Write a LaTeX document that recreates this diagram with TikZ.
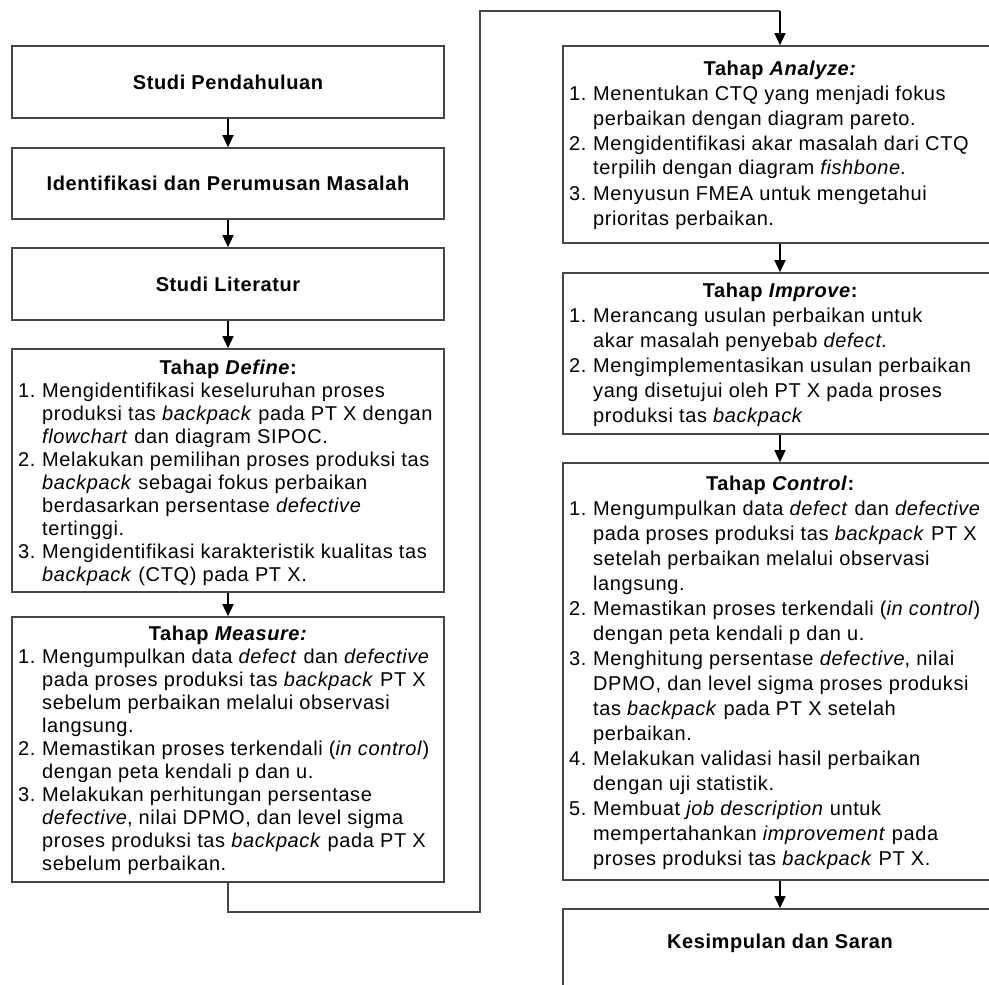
\documentclass[tikz,border=0pt]{standalone}
\usepackage{fontspec}
\setmainfont{Liberation Sans}[LetterSpace=3.0]
\usetikzlibrary{arrows.meta}
\definecolor{boxline}{RGB}{70,70,70}
\newcommand{\itm}[2]{\par\noindent\hangindent=24pt\hangafter=1\makebox[24pt][l]{#1}#2\par}
\tikzset{
  box/.style={draw=boxline, line width=1.6pt, fill=white, rectangle, inner sep=0pt},
  ttl/.style={font=\fontsize{20}{23}\selectfont\bfseries},
  txt/.style={anchor=base west, inner sep=0pt, align=left},
  arr/.style={draw=black, line width=1.3pt, -{Triangle[length=12pt,width=11pt]}},
  link/.style={draw=boxline, line width=1.6pt}
}
\begin{document}
\begin{tikzpicture}[x=1pt,y=-1pt]
\path[use as bounding box, clip] (0,0) rectangle (989,985);
\fill[white] (0,0) rectangle (989,985);
% left column
\node[box, ttl, minimum width=432pt, minimum height=72pt] (s1) at (228,82) {Studi Pendahuluan};
\node[box, ttl, minimum width=432pt, minimum height=71pt] (s2) at (228,183.5) {Identifikasi dan Perumusan Masalah};
\node[box, ttl, minimum width=432pt, minimum height=72pt] (s3) at (228,284) {Studi Literatur};
\node[box, minimum width=432pt, minimum height=243pt] (def) at (228,470.5) {};
\node[box, minimum width=432pt, minimum height=265pt] (mea) at (228,749.5) {};
% right column
\node[box, minimum width=434pt, minimum height=197pt] (ana) at (780,144.5) {};
\node[box, minimum width=434pt, minimum height=161pt] (imp) at (780,353.5) {};
\node[box, minimum width=434pt, minimum height=417pt] (ctl) at (780,671.5) {};
\node[box, minimum width=434pt, minimum height=91pt] (kes) at (780,954.5) {};
\node[ttl, inner sep=0pt] (kest) at (780,943) {Kesimpulan dan Saran};

% texts
\node[txt] (deft) at (18,374) {\parbox[t]{600pt}{\fontsize{20}{23}\selectfont
\makebox[420pt][c]{\bfseries Tahap \textit{Define}:}\par
\itm{1.}{Mengidentifikasi keseluruhan proses\\produksi tas \textit{backpack} pada PT X dengan\\\textit{flowchart} dan diagram SIPOC.}
\itm{2.}{Melakukan pemilihan proses produksi tas\\\textit{backpack} sebagai fokus perbaikan\\berdasarkan persentase \textit{defective}\\tertinggi.}
\itm{3.}{Mengidentifikasi karakteristik kualitas tas\\\textit{backpack} (CTQ) pada PT X.}}};

\node[txt] (meat) at (18,640) {\parbox[t]{600pt}{\fontsize{20}{23}\selectfont
\makebox[420pt][c]{\bfseries Tahap \textit{Measure:}}\par
\itm{1.}{Mengumpulkan data \textit{defect} dan \textit{defective}\\pada proses produksi tas \textit{backpack} PT X\\sebelum perbaikan melalui observasi\\langsung.}
\itm{2.}{Memastikan proses terkendali (\textit{in control})\\dengan peta kendali p dan u.}
\itm{3.}{Melakukan perhitungan persentase\\\textit{defective}, nilai DPMO, dan level sigma\\proses produksi tas \textit{backpack} pada PT X\\sebelum perbaikan.}}};

\node[txt] (anat) at (569,75) {\parbox[t]{600pt}{\fontsize{20}{25}\selectfont
\makebox[422pt][c]{\bfseries Tahap \textit{Analyze:}}\par
\itm{1.}{Menentukan CTQ yang menjadi fokus\\perbaikan dengan diagram pareto.}
\itm{2.}{Mengidentifikasi akar masalah dari CTQ\\terpilih dengan diagram \textit{fishbone}.}
\itm{3.}{Menyusun FMEA untuk mengetahui\\prioritas perbaikan.}}};

\node[txt] (impt) at (569,297) {\parbox[t]{600pt}{\fontsize{20}{25}\selectfont
\makebox[422pt][c]{\bfseries Tahap \textit{Improve}:}\par
\itm{1.}{Merancang usulan perbaikan untuk\\akar masalah penyebab \textit{defect}.}
\itm{2.}{Mengimplementasikan usulan perbaikan\\yang disetujui oleh PT X pada proses\\produksi tas \textit{backpack}}}};

\node[txt] (ctlt) at (569,490) {\parbox[t]{600pt}{\fontsize{20}{25}\selectfont
\makebox[422pt][c]{\bfseries Tahap \textit{Control}:}\par
\itm{1.}{Mengumpulkan data \textit{defect} dan \textit{defective}\\pada proses produksi tas \textit{backpack} PT X\\setelah perbaikan melalui observasi\\langsung.}
\itm{2.}{Memastikan proses terkendali (\textit{in control})\\dengan peta kendali p dan u.}
\itm{3.}{Menghitung persentase \textit{defective}, nilai\\DPMO, dan level sigma proses produksi\\tas \textit{backpack} pada PT X setelah\\perbaikan.}
\itm{4.}{Melakukan validasi hasil perbaikan\\dengan uji statistik.}
\itm{5.}{Membuat \textit{job description} untuk\\mempertahankan \textit{improvement} pada\\proses produksi tas \textit{backpack} PT X.}}};

% connectors
\draw[arr] (s1) -- (s2);
\draw[arr] (s2) -- (s3);
\draw[arr] (s3) -- (def);
\draw[arr] (def) -- (mea);
\coordinate (c1) at (228,912);
\coordinate (c2) at (480,912);
\coordinate (c3) at (480,11);
\coordinate (c4) at (780,11);
\draw[link] (mea.south) -- (c1) -- (c2) -- (c3) -- (c4);
\draw[arr] (c4) -- (ana.north);
\draw[arr] (ana) -- (imp);
\draw[arr] (imp) -- (ctl);
\draw[arr] (ctl) -- (kes);
\end{tikzpicture}
\end{document}
